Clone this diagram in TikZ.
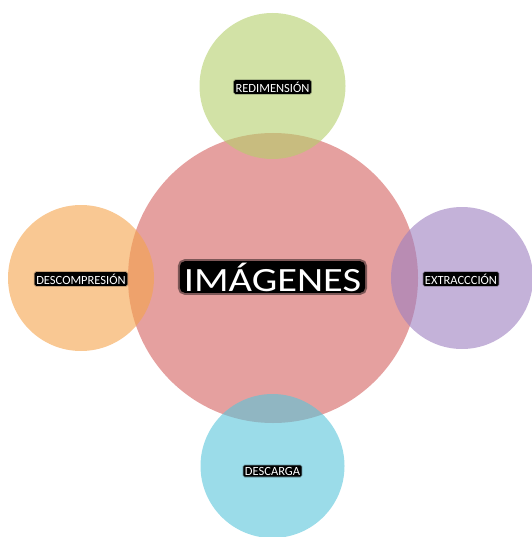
\documentclass[tikz,border=0pt]{standalone}
\usepackage{fontspec}
\setmainfont{Carlito}
\usepackage{xcolor}
\definecolor{pinkc}{HTML}{D4615F}
\definecolor{greenc}{HTML}{B4CF6B}
\definecolor{orangec}{HTML}{F5A34B}
\definecolor{purplec}{HTML}{9D7FC0}
\definecolor{cyanc}{HTML}{58C5DA}
\usepackage{tikz}
\usetikzlibrary{positioning}

\begin{document}
\begin{tikzpicture}[
  x=1pt,y=-1pt,
  every node/.style={align=center},
  hub/.style={circle,draw=none,fill opacity=0.6,minimum size=290pt,inner sep=0pt},
  sat/.style={circle,draw=none,fill opacity=0.6,minimum size=146pt,inner sep=0pt},
  tag/.style={fill=black,text=white,rounded corners=1.5pt,inner sep=1.6pt,
              font=\fontsize{12.5}{13}\selectfont,
              preaction={draw=black,draw opacity=0.3,line width=1.6pt}},
  bigtag/.style={fill=black,text=white,rounded corners=5pt,inner xsep=4pt,inner ysep=1.5pt,
              font=\fontsize{34}{36}\selectfont,
              preaction={draw=black,draw opacity=0.45,line width=4pt}},
]
\useasboundingbox (0,0) rectangle (531,537);

% --- circles: hub first, satellites on top
\node[hub,fill=pinkc]             (hubc)  at (273,278)   {};
\node[sat,fill=greenc]            (top)   at (272.5,86)  {};
\node[sat,fill=orangec]           (left)  at (81,278)    {};
\node[sat,fill=purplec,minimum size=142pt] (right) at (462,278) {};
\node[sat,fill=cyanc,minimum size=144pt]   (bottom) at (272.5,466) {};

% --- labels
\node[bigtag] (lhub) at (272.5,277) {\scalebox{1.19}[1]{IM\'AGENES}};
\node[tag] (ltop)    at (272.5,87) {REDIMENSI\'ON};
\node[tag] (lleft)   at (81,279)   {DESCOMPRESI\'ON};
\node[tag] (lright)  at (461,279)  {EXTRACCCI\'ON};
\node[tag] (lbottom) at (272.5,471) {DESCARGA};

\end{tikzpicture}
\end{document}
